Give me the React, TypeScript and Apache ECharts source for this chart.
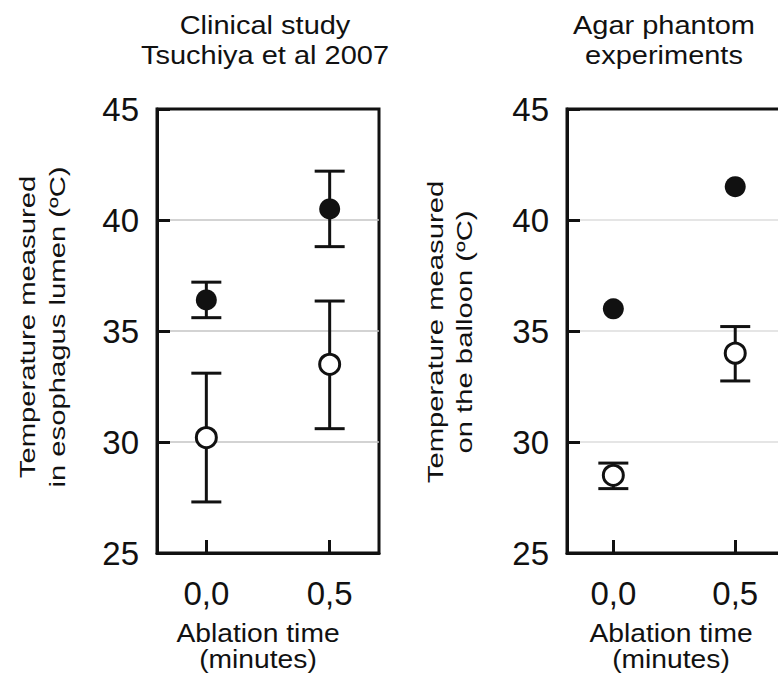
import React, { useEffect, useRef } from "react";
import * as echarts from "echarts";

// ---- data ----
const timePoints = [0, 0.5];
const xTickLabels = ["0,0", "0,5"];
const yMin = 25;
const yMax = 45;
const yStep = 5;

const clinicalTitle = "Clinical study\nTsuchiya et al 2007";
const phantomTitle = "Agar phantom\nexperiments";
const xName = "Ablation time\n(minutes)";
const clinicalYName = "Temperature measured\nin esophagus lumen (ºC)";
const phantomYName = "Temperature measured\non the balloon (ºC)";

const clinicalFilledMean = [36.4, 40.5];
const clinicalFilledLow = [35.6, 38.8];
const clinicalFilledHigh = [37.2, 42.2];
const clinicalOpenMean = [30.2, 33.5];
const clinicalOpenLow = [27.3, 30.6];
const clinicalOpenHigh = [33.1, 36.35];

const phantomFilledMean = [36.0, 41.5];
const phantomOpenMean = [28.5, 34.0];
const phantomOpenLow = [27.9, 32.75];
const phantomOpenHigh = [29.05, 35.2];

const FONT = '"Liberation Sans", Arial, Helvetica, sans-serif';
const INK = "#111111";

function tickLabel(v: number): string {
  const idx = timePoints.findIndex((t) => Math.abs(t - v) < 1e-6);
  return idx >= 0 ? xTickLabels[idx] : "";
}

function errorBarSeries(axisIndex: number, low: number[], high: number[]) {
  return {
    type: "custom",
    xAxisIndex: axisIndex,
    yAxisIndex: axisIndex,
    z: 2,
    silent: true,
    data: timePoints.map((t, i) => [t, low[i], high[i]]),
    encode: { x: 0, y: [1, 2] },
    renderItem: (params: any, api: any) => {
      const x = api.value(0);
      const lo = api.coord([x, api.value(1)]);
      const hi = api.coord([x, api.value(2)]);
      const half = 15;
      const style = { stroke: INK, lineWidth: 3 };
      return {
        type: "group",
        children: [
          { type: "line", shape: { x1: lo[0], y1: lo[1], x2: hi[0], y2: hi[1] }, style },
          { type: "line", shape: { x1: lo[0] - half, y1: lo[1], x2: lo[0] + half, y2: lo[1] }, style },
          { type: "line", shape: { x1: hi[0] - half, y1: hi[1], x2: hi[0] + half, y2: hi[1] }, style },
        ],
      };
    },
  };
}

function filledSeries(axisIndex: number, mean: number[]) {
  return {
    type: "scatter",
    xAxisIndex: axisIndex,
    yAxisIndex: axisIndex,
    z: 3,
    symbol: "circle",
    symbolSize: 21,
    itemStyle: { color: INK, opacity: 1 },
    data: timePoints.map((t, i) => [t, mean[i]]),
  };
}

function openSeries(axisIndex: number, mean: number[]) {
  return {
    type: "scatter",
    xAxisIndex: axisIndex,
    yAxisIndex: axisIndex,
    z: 3,
    symbol: "circle",
    symbolSize: 20,
    itemStyle: { color: "#ffffff", borderColor: INK, borderWidth: 3, opacity: 1 },
    data: timePoints.map((t, i) => [t, mean[i]]),
  };
}

function xAxisCfg(gridIndex: number, min: number) {
  return {
    type: "value",
    gridIndex,
    min,
    max: 0.7,
    axisLine: { show: true, onZero: false, lineStyle: { color: INK, width: 3 } },
    axisTick: {
      show: true,
      inside: true,
      length: 13,
      customValues: timePoints,
      lineStyle: { color: INK, width: 3 },
    },
    axisLabel: {
      show: true,
      customValues: timePoints,
      formatter: (v: number) => tickLabel(v),
      fontSize: 33,
      fontFamily: FONT,
      color: INK,
      margin: 24,
    },
    splitLine: { show: false },
  };
}

function yAxisCfg(gridIndex: number, gridColor: string) {
  return {
    type: "value",
    gridIndex,
    min: yMin,
    max: yMax,
    interval: yStep,
    axisLine: { show: true, onZero: false, lineStyle: { color: INK, width: 3 } },
    axisTick: { show: true, inside: true, length: 13, lineStyle: { color: INK, width: 3 } },
    axisLabel: { fontSize: 33, fontFamily: FONT, color: INK, margin: 18 },
    splitLine: {
      show: true,
      showMinLine: false,
      showMaxLine: false,
      lineStyle: { color: gridColor, width: 1.5 },
    },
  };
}

function hText(text: string, x: number, y: number, size: number, lh: number, sx: number) {
  return {
    type: "text",
    x,
    y,
    scaleX: sx,
    scaleY: 1,
    silent: true,
    style: {
      text,
      fontSize: size,
      fontFamily: FONT,
      fill: INK,
      textAlign: "center",
      textVerticalAlign: "middle",
      align: "center",
      verticalAlign: "middle",
      lineHeight: lh,
    },
  };
}

function vText(text: string, x: number, y: number, size: number, lh: number, sx: number) {
  return {
    type: "text",
    x,
    y,
    rotation: Math.PI / 2,
    scaleX: sx,
    scaleY: 1,
    silent: true,
    style: {
      text,
      fontSize: size,
      fontFamily: FONT,
      fill: INK,
      textAlign: "center",
      textVerticalAlign: "middle",
      align: "center",
      verticalAlign: "middle",
      lineHeight: lh,
    },
  };
}

export default function App() {
  const ref = useRef<HTMLDivElement>(null);

  useEffect(() => {
    document.body.style.margin = "0";
    if (!ref.current) return;
    const chart = echarts.init(ref.current, undefined, { renderer: "svg" });
    chart.setOption({
      animation: false,
      backgroundColor: "#ffffff",
      grid: [
        {
          left: 157,
          top: 109,
          width: 222,
          height: 444,
          show: true,
          borderColor: INK,
          borderWidth: 3,
          backgroundColor: "transparent",
          outerBoundsMode: "none",
          containLabel: false,
        },
        {
          left: 567,
          top: 109,
          width: 217,
          height: 444,
          show: true,
          borderColor: INK,
          borderWidth: 3,
          backgroundColor: "transparent",
          outerBoundsMode: "none",
          containLabel: false,
        },
      ],
      xAxis: [xAxisCfg(0, -0.2), xAxisCfg(1, -0.19)],
      yAxis: [yAxisCfg(0, "#c4c4c4"), yAxisCfg(1, "#dcdcdc")],
      series: [
        errorBarSeries(0, clinicalFilledLow, clinicalFilledHigh),
        errorBarSeries(0, clinicalOpenLow, clinicalOpenHigh),
        filledSeries(0, clinicalFilledMean),
        openSeries(0, clinicalOpenMean),
        errorBarSeries(1, phantomOpenLow, phantomOpenHigh),
        filledSeries(1, phantomFilledMean),
        openSeries(1, phantomOpenMean),
      ],
      graphic: [
        hText(clinicalTitle, 265, 40, 26, 30, 1.115),
        hText(phantomTitle, 664, 40, 26, 30, 1.115),
        hText(xName, 258, 647, 25, 26, 1.13),
        hText(xName, 671, 647, 25, 26, 1.13),
        vText(clinicalYName, 42, 327, 22, 30, 1.33),
        vText(phantomYName, 450, 332, 22, 29, 1.33),
      ],
    });
    return () => chart.dispose();
  }, []);

  return <div ref={ref} style={{ width: 778, height: 684 }} />;
}
